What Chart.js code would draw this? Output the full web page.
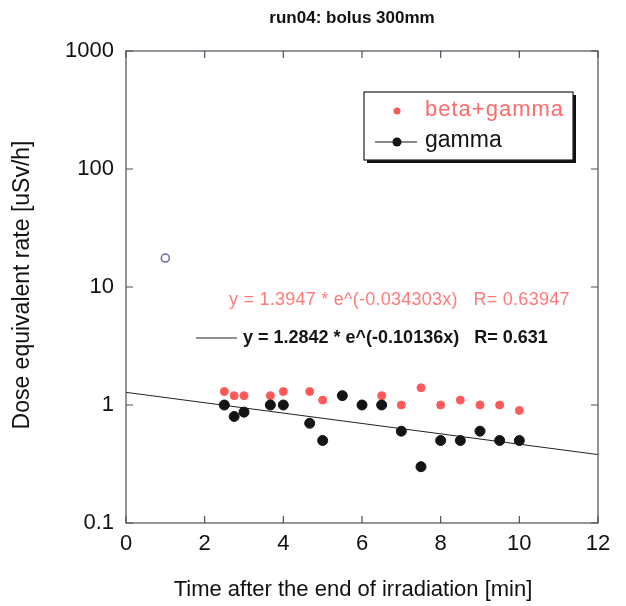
<!DOCTYPE html>
<html>
<head>
<meta charset="utf-8">
<script src="https://cdn.jsdelivr.net/npm/chart.js@4"></script>
<style>
html, body { margin: 0; padding: 0; background: #fff; }
</style>
</head>
<body>
<canvas id="chart" width="626" height="606"></canvas>
<script>
/* data */
const timeMin = [2.5, 2.75, 3, 3.67, 4, 4.67, 5, 5.5, 6, 6.5, 7, 7.5, 8, 8.5, 9, 9.5, 10];
const betaGamma = [1.3, 1.2, 1.2, 1.2, 1.3, 1.3, 1.1, 1.2, 1.0, 1.2, 1.0, 1.4, 1.0, 1.1, 1.0, 1.0, 0.9];
const gamma = [1.0, 0.8, 0.87, 1.0, 1.0, 0.7, 0.5, 1.2, 1.0, 1.0, 0.6, 0.3, 0.5, 0.5, 0.6, 0.5, 0.5];
const earlyX = [1];
const earlyY = [17.6];
const fitX = [0, 12];
const fitY = [1.28, 0.38];
const xTicks = [0, 2, 4, 6, 8, 10, 12];
const yTicks = [0.1, 1, 10, 100, 1000];

const FONT = "'Liberation Sans', Arial, sans-serif";

function pts(xs, ys) {
	return xs.map((x, i) => ({ x: x, y: ys[i] }));
}

/* frame, inward ticks, legend, texts */
const decorPlugin = {
	id: 'decor',
	afterDraw(chart) {
		const ctx = chart.ctx;
		const a = chart.chartArea;
		const xs = chart.scales.x;
		const ys = chart.scales.y;
		ctx.save();

		// frame + ticks on all four sides
		ctx.strokeStyle = '#4a5058';
		ctx.lineWidth = 1.2;
		ctx.strokeRect(a.left, a.top, a.right - a.left, a.bottom - a.top);
		ctx.beginPath();
		xTicks.forEach(v => {
			const px = xs.getPixelForValue(v);
			ctx.moveTo(px, a.bottom); ctx.lineTo(px, a.bottom - 7);
			ctx.moveTo(px, a.top); ctx.lineTo(px, a.top + 7);
		});
		yTicks.forEach(v => {
			const py = ys.getPixelForValue(v);
			ctx.moveTo(a.left, py); ctx.lineTo(a.left + 7, py);
			ctx.moveTo(a.right, py); ctx.lineTo(a.right - 7, py);
		});
		ctx.stroke();

		// title
		ctx.fillStyle = '#111';
		ctx.textAlign = 'center';
		ctx.textBaseline = 'middle';
		ctx.font = 'bold 17px ' + FONT;
		ctx.fillText('run04: bolus 300mm', 352, 18);

		// axis titles
		ctx.font = '22px ' + FONT;
		ctx.fillText('Time after the end of irradiation [min]', 353, 590);
		ctx.save();
		ctx.translate(23, 285);
		ctx.rotate(-Math.PI / 2);
		ctx.font = '23px ' + FONT;
		ctx.fillText('Dose equivalent rate [uSv/h]', 0, 0);
		ctx.restore();

		// legend box with shadow
		const bx = 364, by = 92, bw = 209, bh = 68;
		ctx.fillStyle = '#111';
		ctx.fillRect(bx + 3, by + 3, bw, bh);
		ctx.fillStyle = '#fff';
		ctx.fillRect(bx, by, bw, bh);
		ctx.strokeStyle = '#222';
		ctx.lineWidth = 1.2;
		ctx.strokeRect(bx, by, bw, bh);

		ctx.textAlign = 'left';
		ctx.font = '22px ' + FONT;
		ctx.fillStyle = '#ff5a5a';
		ctx.beginPath();
		ctx.arc(397, 111, 3.5, 0, Math.PI * 2);
		ctx.fill();
		ctx.fillStyle = '#ff6a6a';
		ctx.letterSpacing = '1px';
		ctx.fillText('beta+gamma', 425, 110);
		ctx.letterSpacing = '0px';

		ctx.strokeStyle = '#111';
		ctx.lineWidth = 1;
		ctx.beginPath();
		ctx.moveTo(375, 142); ctx.lineTo(417, 142);
		ctx.stroke();
		ctx.fillStyle = '#141414';
		ctx.beginPath();
		ctx.arc(397, 142, 4.5, 0, Math.PI * 2);
		ctx.fill();
		ctx.font = '23px ' + FONT;
		ctx.fillText('gamma', 425, 141);

		// fit annotations
		ctx.font = '18px ' + FONT;
		ctx.fillStyle = '#ff7a7a';
		ctx.letterSpacing = '0.25px';
		ctx.fillText('y = 1.3947 * e^(-0.034303x)   R= 0.63947', 229, 300);
		ctx.letterSpacing = '0px';

		ctx.font = 'bold 18px ' + FONT;
		ctx.fillStyle = '#151515';
		ctx.fillText('y = 1.2842 * e^(-0.10136x)   R= 0.631', 243, 338);
		ctx.strokeStyle = '#222';
		ctx.beginPath();
		ctx.moveTo(196, 338); ctx.lineTo(237, 338);
		ctx.stroke();

		ctx.restore();
	}
};

const ctx = document.getElementById('chart');

new Chart(ctx, {
	type: 'scatter',
	data: {
		datasets: [{
			label: 'gamma',
			data: pts(timeMin, gamma),
			backgroundColor: '#141414',
			borderColor: '#141414',
			pointRadius: 5,
			order: 1
		}, {
			label: 'beta+gamma',
			data: pts(timeMin, betaGamma),
			backgroundColor: '#ff5a5a',
			borderColor: '#ff5a5a',
			pointRadius: 4,
			order: 2
		}, {
			label: 'early',
			data: pts(earlyX, earlyY),
			backgroundColor: '#fff',
			borderColor: '#6b6b9b',
			borderWidth: 1.5,
			pointRadius: 4,
			order: 3
		}, {
			label: 'fit gamma',
			data: pts(fitX, fitY),
			showLine: true,
			borderColor: '#222',
			borderWidth: 1,
			pointRadius: 0,
			order: 4
		}]
	},
	options: {
		responsive: false,
		animation: false,
		layout: { padding: { top: 51, right: 28, left: 0, bottom: 0 } },
		plugins: {
			legend: { display: false },
			tooltip: { enabled: false }
		},
		scales: {
			x: {
				type: 'linear',
				min: 0,
				max: 12,
				afterBuildTicks: s => { s.ticks = xTicks.map(v => ({ value: v })); },
				afterFit: s => { s.height = 83; },
				ticks: {
					padding: 8,
					color: '#111',
					font: { family: FONT, size: 22 }
				},
				grid: { display: false, drawTicks: false },
				border: { display: false }
			},
			y: {
				type: 'logarithmic',
				min: 0.1,
				max: 1000,
				afterBuildTicks: s => { s.ticks = yTicks.map(v => ({ value: v })); },
				afterFit: s => { s.width = 126; },
				ticks: {
					padding: 12,
					color: '#111',
					font: { family: FONT, size: 22 },
					callback: v => String(v)
				},
				grid: { display: false, drawTicks: false },
				border: { display: false }
			}
		}
	},
	plugins: [decorPlugin]
});
</script>
</body>
</html>
